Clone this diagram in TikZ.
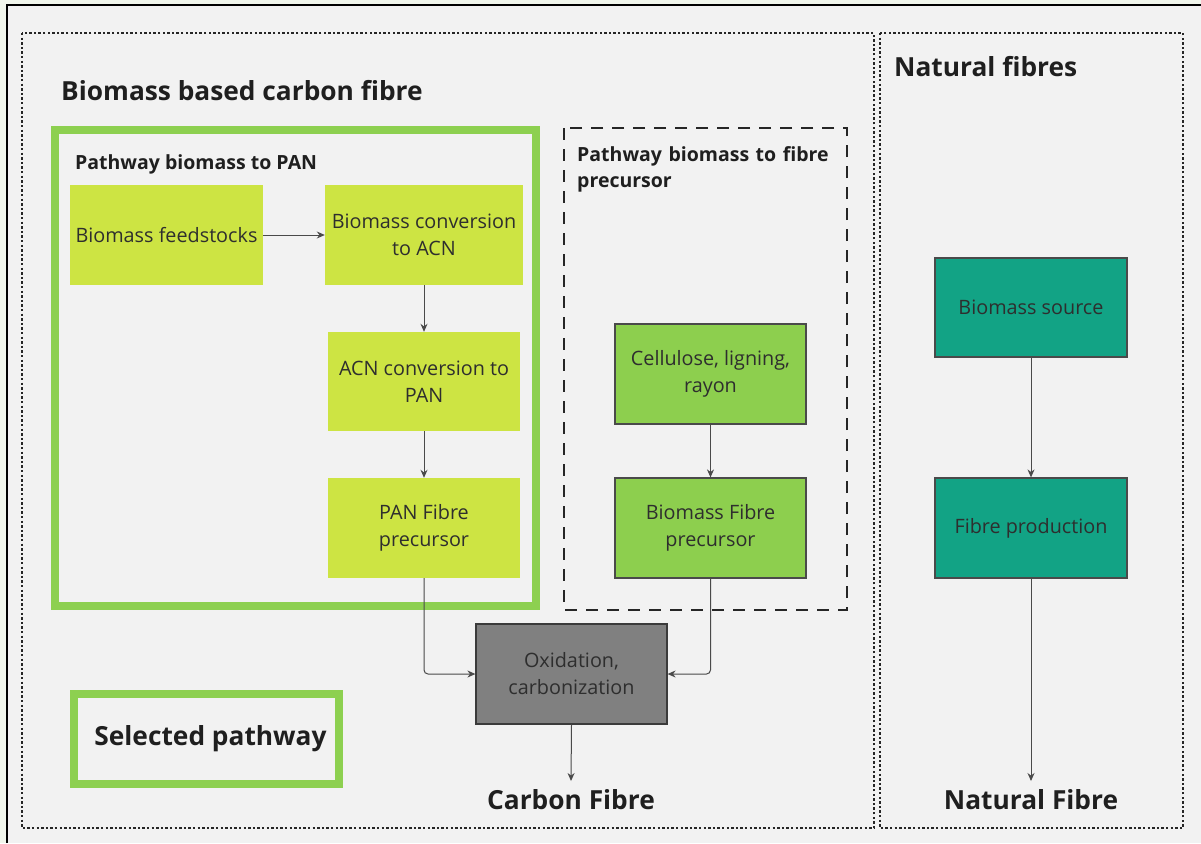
\documentclass[tikz,border=0pt]{standalone}
\usepackage{fontspec}
\setmainfont{Open Sans}
\usetikzlibrary{arrows.meta}
\definecolor{bgout}{HTML}{F1F6EC}
\definecolor{bgin}{HTML}{F2F2F2}
\definecolor{ygreen}{HTML}{CDE443}
\definecolor{lgreen}{HTML}{8DCF4E}
\definecolor{framegreen}{HTML}{8DD050}
\definecolor{teal}{HTML}{12A385}
\definecolor{boxgray}{HTML}{808080}
\definecolor{txt}{HTML}{2E2E2E}
\definecolor{conn}{HTML}{4A4A4A}
\tikzset{
  box/.style={rectangle, minimum width=192, minimum height=100, align=center, text=txt, inner sep=2pt, font=\fontsize{19.8}{27}\selectfont},
  ybox/.style={box, fill=ygreen},
  gbox/.style={box, fill=lgreen, draw=conn, line width=1.2pt},
  tbox/.style={box, fill=teal, draw=conn, line width=1.2pt},
  graybox/.style={box, fill=boxgray, draw=conn!80!black, line width=1.2pt},
  dotline/.style={draw=black!85, line width=2.8pt, dash pattern=on 2.4pt off 2.2pt},
  conarrow/.style={draw=conn, line width=1pt, -{Stealth[length=8pt,width=7pt]}, rounded corners=4pt},
  title/.style={font=\bfseries\fontsize{26.3}{30}\selectfont, text=black!88, inner sep=0pt},
  subtitle/.style={font=\bfseries\fontsize{19.5}{26}\selectfont, text=black!88, inner sep=0pt, align=left}
}
\begin{document}
\begin{tikzpicture}[x=1pt,y=-1pt]
\useasboundingbox (0,0) rectangle (1201,843);
\fill[bgout] (0,0) rectangle (1201,843);
\fill[bgin] (7,5) rectangle (1201,843);
\draw[black, line width=2.2pt] (7,843) -- (7,5) -- (1201,5);
% panels
\path[dotline] (22,33) rectangle (874,828);
\path[dotline] (880,33) rectangle (1183,828);
% titles
\node[title, anchor=base west] (t1) at (61,100) {Biomass based carbon fibre};
\node[title, anchor=base west] (t2) at (894,76) {Natural fibres};
% green frame
\draw[framegreen, line width=8pt] (55,130) rectangle (536,606);
\node[subtitle, anchor=base west] (s1) at (75,169) {Pathway biomass to PAN};
% dashed frame
\draw[black!85, line width=2pt, dash pattern=on 12pt off 9pt] (564,128) rectangle (847,610);
\node[subtitle, anchor=base west, text width=270pt] (s2) at (577,161) {Pathway biomass to fibre\\precursor};
% boxes
\node[ybox, minimum width=193] (feed) at (166.5,235) {Biomass feedstocks};
\node[ybox, minimum width=198] (conv) at (424,235) {Biomass conversion\\to ACN};
\node[ybox, minimum height=99] (acn) at (424,381.5) {ACN conversion to\\PAN};
\node[ybox] (pan) at (424,528) {PAN Fibre\\precursor};
\node[gbox, minimum width=191] (cell) at (710.5,374) {Cellulose, ligning,\\rayon};
\node[gbox, minimum width=191] (bfp) at (710.5,528) {Biomass Fibre\\precursor};
\node[graybox, minimum width=191] (ox) at (571.5,674) {Oxidation,\\carbonization};
\node[tbox, minimum height=99] (bsrc) at (1031,307.5) {Biomass source};
\node[tbox] (fprod) at (1031,528) {Fibre production};
\node[title, anchor=base] (cf) at (571,809) {Carbon Fibre};
\node[title, anchor=base] (nf) at (1031,809) {Natural Fibre};
% legend
\node[draw=framegreen, line width=8pt, minimum width=265, minimum height=90, inner sep=0pt, font=\bfseries\fontsize{26.3}{30}\selectfont, text=black!88] (sel) at (206.5,739) {\hspace*{8pt}Selected pathway};
% connectors
\draw[conarrow] (feed.east) -- (conv.west);
\draw[conarrow] (conv.south) -- (acn.north);
\draw[conarrow] (acn.south) -- (pan.north);
\draw[conarrow] (cell.south) -- (bfp.north);
\draw[conarrow] (pan.south) |- (ox.west);
\draw[conarrow] (bfp.south) |- (ox.east);
\coordinate (cfTop) at (571,781);
\coordinate (nfTop) at (1031,781);
\draw[conarrow] (ox.south) -- (cfTop);
\draw[conarrow] (bsrc.south) -- (fprod.north);
\draw[conarrow] (fprod.south) -- (nfTop);
\end{tikzpicture}
\end{document}
